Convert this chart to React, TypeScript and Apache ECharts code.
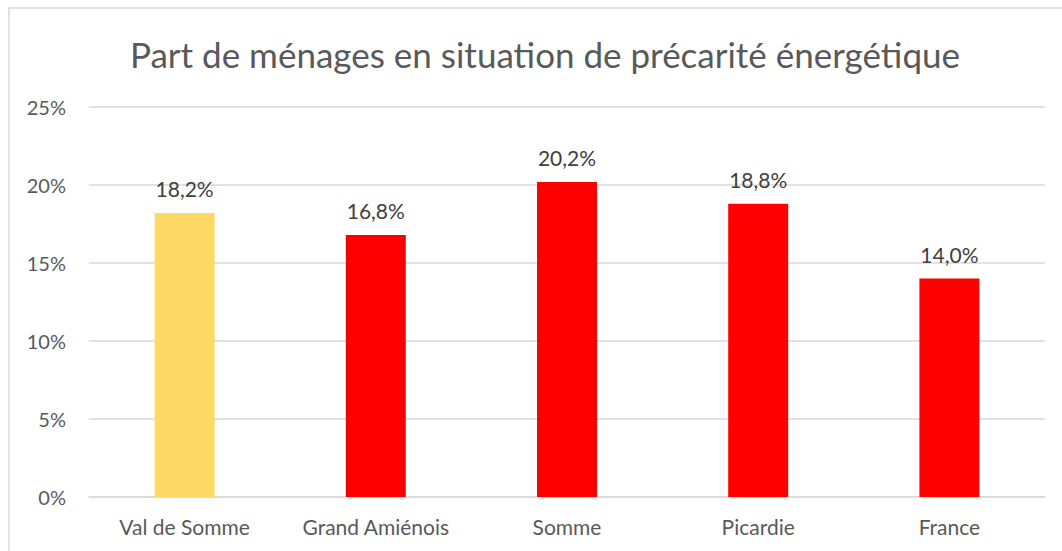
import React, { useEffect, useRef } from "react";
import * as echarts from "echarts";

const categories = ["Val de Somme", "Grand Amiénois", "Somme", "Picardie", "France"];
const values = [18.2, 16.8, 20.2, 18.8, 14.0];
const barColors = ["#FFD966", "#FF0000", "#FF0000", "#FF0000", "#FF0000"];
const titleText = "Part de ménages en situation de précarité énergétique";

export default function App() {
  const ref = useRef<HTMLDivElement>(null);
  useEffect(() => {
    document.body.style.margin = "0";
    const chart = echarts.init(ref.current!, null, { renderer: "svg" });
    const font = "Lato, 'Open Sans', sans-serif";
    chart.setOption({
      animation: false,
      backgroundColor: "#ffffff",
      title: {
        text: titleText,
        left: 540,
        textAlign: "center",
        top: 31,
        textStyle: { fontFamily: font, fontSize: 35, fontWeight: "normal", color: "#595959" },
      },
      graphic: [
        {
          type: "rect",
          shape: { x: 9, y: 8, width: 1100, height: 600 },
          style: { fill: "none", stroke: "#D9D9D9", lineWidth: 1.5 },
          silent: true,
        },
      ],
      grid: { left: 89, right: 17, top: 107, bottom: 54, containLabel: false },
      xAxis: {
        type: "category",
        data: categories,
        axisLine: { show: true, lineStyle: { color: "#D9D9D9", width: 1.5 } },
        axisTick: { show: false },
        axisLabel: { interval: 0, hideOverlap: false, fontFamily: font, fontSize: 21, color: "#595959", margin: 19 },
      },
      yAxis: {
        type: "value",
        min: 0,
        max: 25,
        interval: 5,
        axisLine: { show: false },
        axisTick: { show: false },
        splitLine: { lineStyle: { color: "#D9D9D9", width: 1.5 } },
        axisLabel: {
          fontFamily: font,
          fontSize: 20,
          color: "#595959",
          margin: 23,
          formatter: (v: number) => `${v}%`,
        },
      },
      series: [
        {
          type: "bar",
          barWidth: 60,
          data: values.map((v, i) => ({ value: v, itemStyle: { color: barColors[i] } })),
          label: {
            show: true,
            position: "top",
            distance: 14,
            fontFamily: font,
            fontSize: 21,
            color: "#404040",
            formatter: (p: any) => p.value.toFixed(1).replace(".", ",") + "%",
          },
        },
      ],
    });
    return () => chart.dispose();
  }, []);
  return <div ref={ref} style={{ width: 1062, height: 551 }} />;
}
